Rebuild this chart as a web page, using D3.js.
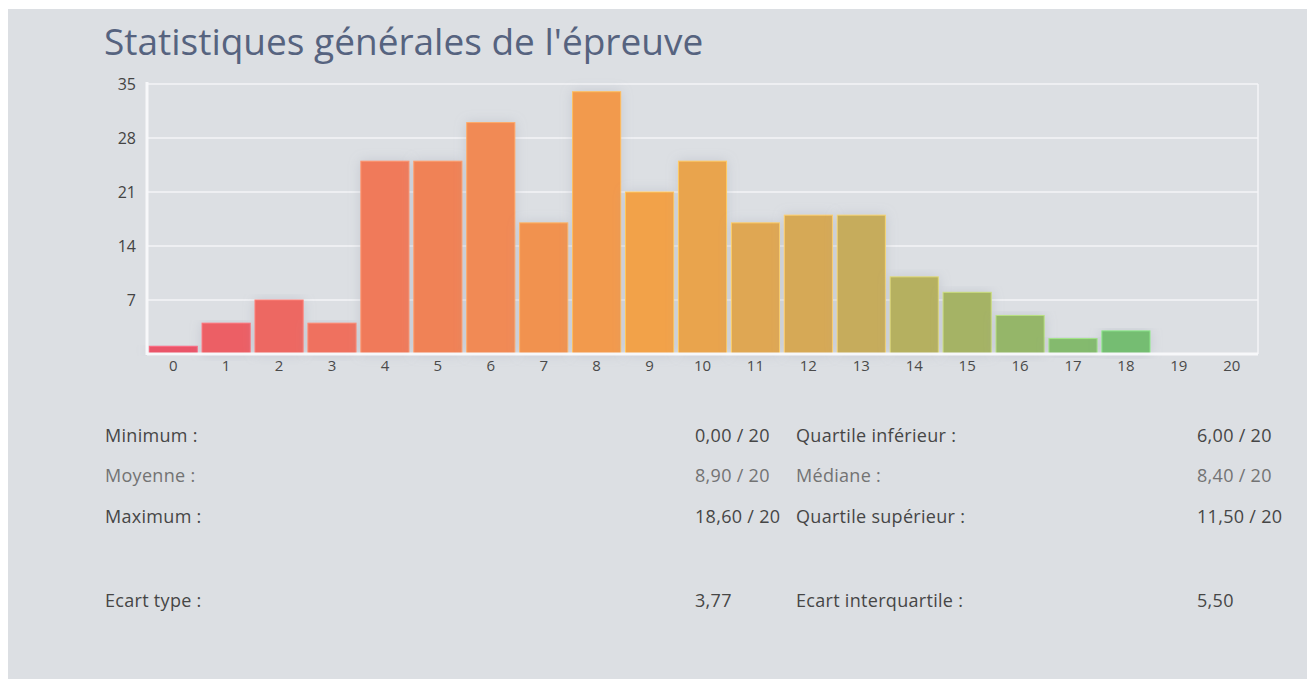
<!DOCTYPE html>
<html>
<head>
<meta charset="utf-8">
<script src="https://cdn.jsdelivr.net/npm/d3@7"></script>
<style>
  body { margin: 0; background: #fff; font-family: "Open Sans", sans-serif; }
  #panel { position: absolute; left: 8px; top: 9px; width: 1299px; height: 670px; background: #dcdfe3; }
</style>
</head>
<body>
<div id="panel"></div>
<script>
// notes 0..20 and number of students per note
var notes = d3.range(0, 21);
var counts = [1, 4, 7, 4, 25, 25, 30, 17, 34, 21, 25, 17, 18, 18, 10, 8, 5, 2, 3, 0, 0];
var yTicks = [7, 14, 21, 28, 35];

// statistics table
var statLeftLabels = ["Minimum :", "Moyenne :", "Maximum :", "Ecart type :"];
var statLeftValues = ["0,00 / 20", "8,90 / 20", "18,60 / 20", "3,77"];
var statRightLabels = ["Quartile inférieur :", "Médiane :", "Quartile supérieur :", "Ecart interquartile :"];
var statRightValues = ["6,00 / 20", "8,40 / 20", "11,50 / 20", "5,50"];

var W = 1307, H = 679;
var svg = d3.select("body").append("svg")
    .attr("width", W).attr("height", H)
    .style("position", "absolute").style("left", 0).style("top", 0);

var defs = svg.append("defs");
var f = defs.append("filter").attr("id", "shadow")
    .attr("x", "-30%").attr("y", "-10%").attr("width", "160%").attr("height", "130%");
f.append("feDropShadow").attr("dx", 0).attr("dy", 0).attr("stdDeviation", 6)
    .attr("flood-color", "#9aa0b0").attr("flood-opacity", 0.35);

// title
svg.append("text")
    .attr("x", 104).attr("y", 55)
    .attr("font-size", 37)
    .attr("fill", "#56637f")
    .text("Statistiques générales de l'épreuve");

var plot = {left: 147, right: 1258, top: 84, bottom: 354};

var x = d3.scaleBand()
    .domain(notes)
    .range([plot.left, plot.right])
    .paddingInner(0.09).paddingOuter(0.04);

var y = d3.scaleLinear()
    .domain([0, 35])
    .range([plot.bottom, plot.top]);

// colours along notes
var color = d3.scaleLinear()
    .domain([0, 4, 9, 12, 18])
    .range(["#ea5569", "#f07a5a", "#f2a24a", "#d6a957", "#74bd72"]);

// grid
svg.append("g")
  .selectAll("line")
  .data(yTicks)
  .enter().append("line")
    .attr("x1", plot.left).attr("x2", plot.right)
    .attr("y1", function(d) { return y(d); })
    .attr("y2", function(d) { return y(d); })
    .attr("stroke", "#f4f5f7").attr("stroke-width", 1.5);

svg.append("line")
    .attr("x1", plot.right).attr("x2", plot.right)
    .attr("y1", plot.top).attr("y2", plot.bottom)
    .attr("stroke", "#f4f5f7").attr("stroke-width", 1.5);

// bars
svg.append("g")
  .selectAll("rect")
  .data(notes)
  .enter().append("rect")
    .attr("x", function(d) { return x(d); })
    .attr("y", function(d) { return y(counts[d]); })
    .attr("width", x.bandwidth())
    .attr("height", function(d) { return y(0) - y(counts[d]); })
    .attr("fill", function(d) { return color(d); })
    .attr("stroke", function(d) { return d3.color(color(d)).brighter(0.6); })
    .attr("stroke-width", 1)
    .attr("filter", "url(#shadow)");

// axes lines
svg.append("line")
    .attr("x1", plot.left).attr("x2", plot.left)
    .attr("y1", plot.top - 2).attr("y2", plot.bottom + 1)
    .attr("stroke", "#f7f8fa").attr("stroke-width", 3);
svg.append("line")
    .attr("x1", plot.left).attr("x2", plot.right)
    .attr("y1", plot.bottom).attr("y2", plot.bottom)
    .attr("stroke", "#f7f8fa").attr("stroke-width", 3);

// y tick labels
var yAxis = svg.append("g")
    .attr("transform", "translate(" + (plot.left - 11) + ",0)")
    .call(d3.axisLeft(y).tickValues(yTicks).tickSize(0).tickPadding(0));
yAxis.select(".domain").remove();
yAxis.selectAll("text")
    .attr("font-family", "Open Sans").attr("font-size", 16).attr("fill", "#444");

// x tick labels
var xAxis = svg.append("g")
    .attr("transform", "translate(0," + (plot.bottom + 4) + ")")
    .call(d3.axisBottom(x).tickSize(0).tickPadding(2));
xAxis.select(".domain").remove();
xAxis.selectAll("text")
    .attr("font-family", "Open Sans").attr("font-size", 15).attr("fill", "#4a4a4a");

// statistics
var rowY = [442, 482, 523, 607];
var rowColor = ["#464646", "#737373", "#464646", "#464646"];
var stats = svg.append("g")
    .attr("font-size", 18)
    .attr("letter-spacing", 0.3);

function column(arr, xpos) {
  stats.append("g").selectAll("text")
    .data(arr)
    .enter().append("text")
      .attr("x", xpos)
      .attr("y", function(d, i) { return rowY[i]; })
      .attr("fill", function(d, i) { return rowColor[i]; })
      .text(function(d) { return d; });
}
column(statLeftLabels, 105);
column(statLeftValues, 695);
column(statRightLabels, 796);
column(statRightValues, 1197);
</script>
</body>
</html>
